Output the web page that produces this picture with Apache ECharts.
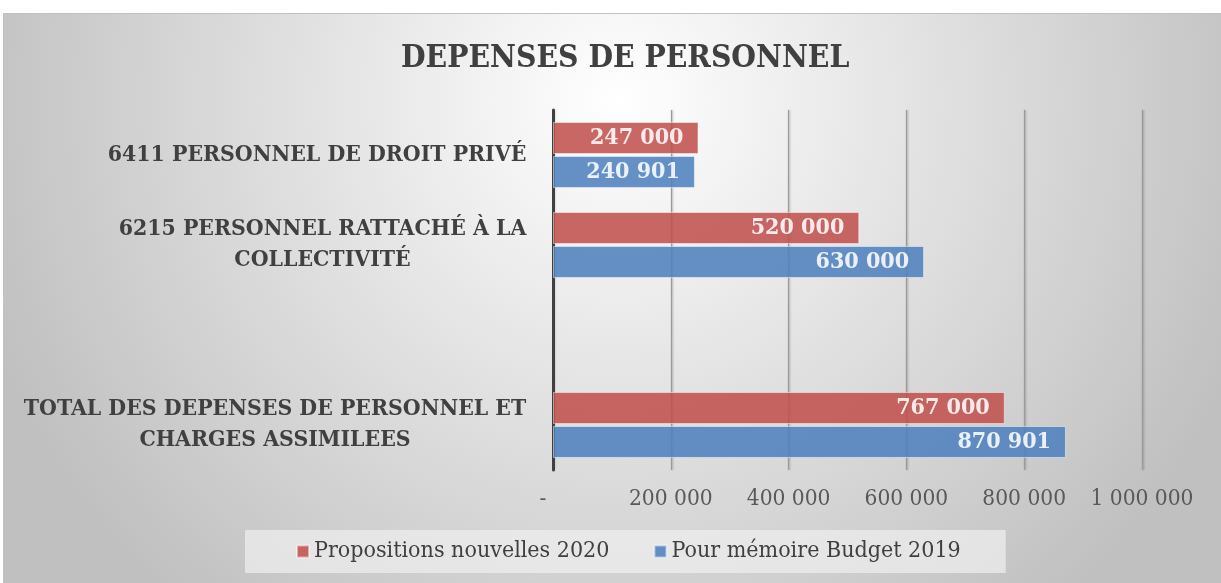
<!DOCTYPE html>
<html><head><meta charset="utf-8">
<script src="https://cdn.jsdelivr.net/npm/echarts@6/dist/echarts.min.js"></script>
<style>html,body{margin:0;padding:0;background:#fff}#c{width:1221px;height:583px}</style>
</head><body><div id="c"></div>
<script>
const titleText = 'DEPENSES DE PERSONNEL';
const categories = [
  '6411 PERSONNEL DE DROIT PRIVÉ',
  '6215 PERSONNEL RATTACHÉ À LA\nCOLLECTIVITÉ',
  '',
  'TOTAL DES DEPENSES DE PERSONNEL ET\nCHARGES ASSIMILEES'
];
const seriesNames = ['Propositions nouvelles 2020', 'Pour mémoire Budget 2019'];
const propositions2020 = [247000, 520000, null, 767000];
const budget2019 = [240901, 630000, null, 870901];
const axisMin = 0, axisMax = 1000000, axisStep = 200000;

const fmt = v => String(v).replace(/\B(?=(\d{3})+(?!\d))/g, ' ');

const serifC = '"DejaVu Serif Condensed"';
const catSize = 22.8;
const ctx = document.createElement('canvas').getContext('2d');
ctx.font = 'bold ' + catSize + 'px ' + serifC;
const rich = {};
categories.forEach((c, i) => {
  const lines = c.split('\n');
  const w = Math.max(1, ...lines.map(l => ctx.measureText(l).width));
  rich['c' + i] = {width: Math.ceil(w) + 1, align: 'center', fontFamily: serifC, fontWeight: 'bold', fontSize: catSize, color: '#404040', lineHeight: 31};
});

const chart = echarts.init(document.getElementById('c'), null, {renderer: 'canvas'});
chart.setOption({
  animation: false,
  graphic: [{
    type: 'rect', z: -100, silent: true,
    shape: {x: 3.5, y: 13.5, width: 1230, height: 580},
    style: {
      fill: {type: 'radial', x: 0.5, y: 0.15, r: 1.15,
        colorStops: [{offset: 0, color: '#ffffff'}, {offset: 1, color: '#c0c0c0'}]},
      stroke: '#c2c2c2', lineWidth: 1
    }
  }],
  title: {
    text: titleText, left: 396, top: 38,
    textStyle: {fontFamily: serifC, fontWeight: 'bold', fontSize: 31.5, color: '#404040'}
  },
  legend: {
    data: seriesNames, left: 245, top: 530,
    icon: 'rect', itemWidth: 12, itemHeight: 12, itemGap: 44,
    backgroundColor: 'rgba(240,240,240,0.7)',
    padding: [10, 45, 10, 51],
    textStyle: {fontFamily: serifC, fontSize: 23, color: '#404040'}
  },
  grid: {left: 553, right: 79, top: 110, bottom: 113, containLabel: false, outerBoundsMode: 'none'},
  xAxis: {
    type: 'value', min: axisMin, max: axisMax, interval: axisStep,
    axisLine: {show: false}, axisTick: {show: false},
    splitLine: {lineStyle: {color: '#9a9a9a', width: 1.2, shadowColor: 'rgba(0,0,0,0.25)', shadowBlur: 2, shadowOffsetX: 1}},
    axisLabel: {
      margin: 18,
      formatter: v => v === 0 ? '{d|-}' : fmt(v),
      fontFamily: serifC, fontSize: 22.5, color: '#595959',
      rich: {d: {padding: [0, 20, 0, 0], fontFamily: serifC, fontSize: 22.5, color: '#595959'}}
    }
  },
  yAxis: {
    type: 'category', data: categories, inverse: true,
    axisLine: {lineStyle: {color: '#404040', width: 3}},
    axisTick: {show: false},
    axisLabel: {
      margin: 26,
      formatter: (v, i) => v === '' ? '' : v.split('\n').map(l => '{c' + i + '|' + l + '}').join('\n'),
      rich: rich
    }
  },
  series: [
    {
      name: seriesNames[0], type: 'bar', data: propositions2020,
      barWidth: 32, barGap: '6%',
      itemStyle: {color: '#C0504D', opacity: 0.87, borderColor: 'rgba(255,255,255,0.55)', borderWidth: 1},
      label: {show: true, position: 'insideRight', distance: 15, formatter: p => fmt(p.value),
        fontFamily: serifC, fontWeight: 'bold', fontSize: 23, color: '#ffffff'}
    },
    {
      name: seriesNames[1], type: 'bar', data: budget2019,
      barWidth: 32, barGap: '6%',
      itemStyle: {color: '#4F81BD', opacity: 0.87, borderColor: 'rgba(255,255,255,0.55)', borderWidth: 1},
      label: {show: true, position: 'insideRight', distance: 15, formatter: p => fmt(p.value),
        fontFamily: serifC, fontWeight: 'bold', fontSize: 23, color: '#ffffff'}
    }
  ]
});
</script></body></html>
